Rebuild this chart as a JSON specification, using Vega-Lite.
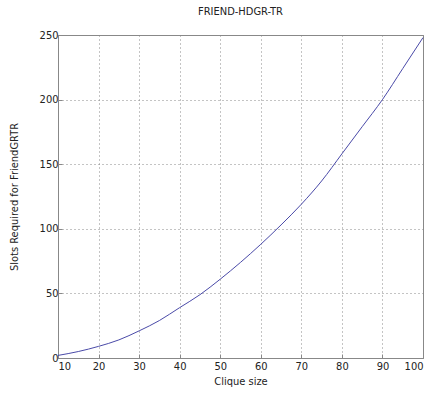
{
  "$schema": "https://vega.github.io/schema/vega-lite/v6.json",
  "width": 365,
  "height": 323,
  "autosize": {"type": "none"},
  "padding": {"left": 58, "top": 35, "right": 10, "bottom": 36},
  "background": "white",
  "title": {"text": "FRIEND-HDGR-TR", "fontSize": 11, "font": "DejaVu Sans Condensed, Liberation Sans Narrow, Liberation Sans", "fontWeight": "normal", "color": "#222", "offset": 12},
  "config": {
    "view": {"stroke": "#888", "strokeWidth": 1},
    "axis": {
      "labelFont": "DejaVu Sans Condensed, Liberation Sans Narrow, Liberation Sans",
      "titleFont": "DejaVu Sans Condensed, Liberation Sans Narrow, Liberation Sans",
      "labelFontSize": 11, "titleFontSize": 11, "titleFontWeight": "normal",
      "labelColor": "#222", "titleColor": "#222",
      "domainColor": "#888", "tickColor": "#888", "tickSize": -4,
      "grid": true, "gridColor": "#888", "gridDash": [1, 3], "gridWidth": 1
    }
  },
  "data": {"values": [
    {"n": 10, "slots": 2}, {"n": 15, "slots": 5}, {"n": 20, "slots": 9},
    {"n": 25, "slots": 14}, {"n": 30, "slots": 21}, {"n": 35, "slots": 29},
    {"n": 40, "slots": 39}, {"n": 45, "slots": 49}, {"n": 50, "slots": 61},
    {"n": 55, "slots": 74}, {"n": 60, "slots": 88}, {"n": 65, "slots": 103},
    {"n": 70, "slots": 119}, {"n": 75, "slots": 137}, {"n": 80, "slots": 158},
    {"n": 85, "slots": 179}, {"n": 90, "slots": 200}, {"n": 95, "slots": 224},
    {"n": 100, "slots": 248}
  ]},
  "mark": {"type": "line", "color": "#4a4aa8", "strokeWidth": 1, "interpolate": "monotone"},
  "encoding": {
    "x": {"field": "n", "type": "quantitative", "scale": {"domain": [10, 100], "nice": false},
      "axis": {"title": "Clique size", "values": [10,20,30,40,50,60,70,80,90,100], "labelPadding": 6, "titlePadding": 4}},
    "y": {"field": "slots", "type": "quantitative", "scale": {"domain": [0, 250], "nice": false},
      "axis": {"title": "Slots Required for FriendGRTR", "values": [0,50,100,150,200,250], "labelPadding": 4, "titlePadding": 20}}
  }
}
